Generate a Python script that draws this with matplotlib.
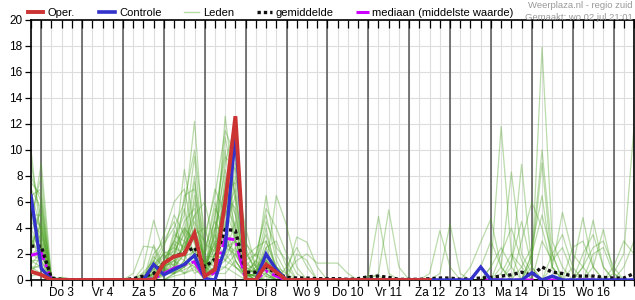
import numpy as np
import matplotlib
matplotlib.use("Agg")
import matplotlib.pyplot as plt
from matplotlib.lines import Line2D

plt.rcParams['font.family'] = ['Liberation Sans', 'DejaVu Sans']

# ---- data: 6-hourly steps starting wo 2 jul 18:00 ----
n_steps = 60
day_labels = ["Do 3", "Vr 4", "Za 5", "Zo 6", "Ma 7", "Di 8", "Wo 9", "Do 10",
              "Vr 11", "Za 12", "Zo 13", "Ma 14", "Di 15", "Wo 16"]
y_ticks = list(range(0, 21, 2))

oper = [0.65, 0.4, 0, 0, 0, 0, 0, 0, 0, 0, 0, 0, 0, 1.3, 1.8, 2.0, 3.6, 0.3, 0.8, 6.0,
        12.6, 0, 0, 1.2, 0.6, 0, 0, 0, 0, 0, 0, 0, 0, 0, 0, 0, 0, 0, 0, 0]

controle = [6.5, 0.9, 0, 0, 0, 0, 0, 0, 0, 0, 0, 0, 1.2, 0.4, 0.8, 1.2, 1.9, 0.1, 0, 2.5,
            11.3, 0, 0, 2.0, 0.8, 0, 0, 0, 0, 0, 0, 0, 0, 0, 0, 0, 0, 0, 0, 0,
            0, 0, 0, 0, 1.0, 0, 0, 0, 0, 0.55, 0, 0.3, 0, 0, 0, 0, 0, 0, 0, 0]

gemiddelde = [2.6, 2.6, 0.15, 0.05, 0.02, 0, 0, 0, 0, 0.02, 0.1, 0.3, 0.5, 1.3, 1.8, 2.1, 2.5, 1.0, 1.6, 3.9,
              3.8, 0.6, 0.6, 1.0, 0.5, 0.2, 0.15, 0.15, 0.1, 0.1, 0.1, 0.05, 0.1, 0.25, 0.3, 0.2, 0.05, 0.05, 0.05, 0.1,
              0.15, 0.15, 0.05, 0.1, 0.15, 0.2, 0.3, 0.4, 0.6, 0.35, 1.0, 0.6, 0.5, 0.3, 0.3, 0.3, 0.2, 0.15, 0.15, 0.5]

mediaan = [1.9, 2.1, 0, 0, 0, 0, 0, 0, 0, 0, 0, 0, 0.1, 0.5, 0.9, 1.2, 1.4, 0.1, 0.6, 3.2,
           3.1, 0, 0, 0.7, 0.3, 0, 0, 0, 0, 0, 0, 0, 0, 0, 0, 0, 0, 0, 0, 0,
           0, 0, 0, 0, 0, 0, 0, 0, 0, 0, 0, 0, 0, 0, 0, 0, 0, 0, 0, 0]

# ensemble members (step index -> value; unlisted steps are 0)
leden = [
    {0: 10.0, 1: 3.0, 2: 0.2, 12: 0.5, 13: 1.5, 14: 3.0, 15: 5.0, 16: 12.2, 17: 2.0, 18: 4.0, 19: 7.0, 20: 5.0, 21: 1.0, 22: 0.5, 23: 2.0, 24: 1.0, 46: 0.5, 47: 2.0, 48: 1.0},
    {0: 4.0, 1: 9.0, 2: 0.3, 11: 0.3, 12: 1.0, 13: 2.0, 14: 2.5, 15: 4.0, 16: 3.0, 17: 0.5, 18: 2.0, 19: 12.6, 20: 6.0, 21: 0.5, 23: 1.0, 49: 1.0, 50: 17.9, 51: 3.0, 52: 1.0},
    {0: 8.0, 1: 6.0, 3: 0.2, 11: 1.0, 12: 4.6, 13: 2.0, 14: 1.0, 15: 2.0, 16: 6.0, 17: 1.0, 18: 3.0, 19: 9.0, 20: 12.0, 21: 2.0, 22: 1.0, 23: 6.5, 24: 2.0, 25: 0.5, 33: 0.3, 34: 4.9, 35: 0.5},
    {0: 6.5, 1: 7.0, 12: 2.7, 13: 1.0, 14: 2.0, 15: 8.5, 16: 4.0, 17: 3.0, 18: 7.0, 19: 5.0, 20: 10.0, 21: 1.5, 22: 2.0, 23: 1.0, 24: 6.5, 25: 4.2, 26: 1.0, 34: 0.5, 35: 5.4, 36: 1.0},
    {0: 5.5, 1: 4.0, 2: 0.2, 10: 0.5, 11: 2.6, 12: 2.5, 13: 0.5, 14: 3.5, 15: 3.0, 16: 8.0, 17: 0.5, 18: 1.0, 19: 6.0, 20: 4.0, 21: 0.3, 22: 0.5, 23: 3.0, 24: 1.0, 25: 0.5, 26: 3.3, 27: 2.9, 28: 1.0, 45: 1.0, 46: 11.8, 47: 2.0},
    {0: 5.0, 1: 5.0, 12: 2.0, 13: 3.0, 14: 4.5, 15: 2.0, 16: 5.0, 17: 6.0, 18: 2.5, 19: 3.0, 20: 8.0, 21: 4.0, 22: 1.0, 23: 1.5, 24: 0.5, 39: 0.5, 40: 3.8, 41: 1.0, 49: 2.0, 50: 10.0, 51: 2.0},
    {0: 4.5, 1: 3.5, 3: 0.2, 12: 1.5, 13: 0.5, 14: 1.0, 15: 6.5, 16: 7.0, 17: 1.0, 18: 5.0, 19: 10.0, 20: 3.0, 21: 0.5, 22: 0.3, 23: 2.5, 24: 3.0, 25: 1.0, 40: 0.5, 41: 4.3, 42: 0.5, 47: 1.0, 48: 8.9, 49: 1.0},
    {0: 3.5, 1: 2.5, 11: 0.5, 12: 1.0, 13: 2.5, 14: 5.0, 15: 3.5, 16: 2.0, 17: 0.3, 18: 4.0, 19: 4.0, 20: 6.5, 21: 1.0, 22: 2.0, 23: 5.0, 24: 1.5, 46: 1.0, 47: 8.3, 48: 2.0, 49: 0.5},
    {0: 3.0, 1: 2.0, 12: 0.5, 13: 1.0, 14: 1.5, 15: 2.5, 16: 4.5, 17: 2.0, 18: 6.0, 19: 2.5, 20: 2.0, 21: 0.5, 23: 0.5, 49: 1.5, 50: 9.0, 51: 1.0, 53: 1.0, 54: 4.8, 55: 1.0},
    {0: 2.5, 1: 4.5, 12: 0.3, 13: 0.5, 14: 2.0, 15: 1.5, 16: 3.5, 17: 4.0, 18: 1.5, 19: 8.0, 20: 2.5, 21: 0.2, 22: 0.5, 23: 1.0, 24: 0.3, 54: 1.0, 55: 4.6, 56: 1.0},
    {0: 2.0, 1: 1.5, 13: 1.0, 14: 0.5, 15: 1.0, 16: 2.5, 17: 0.5, 18: 3.5, 19: 1.5, 20: 3.5, 21: 2.5, 22: 0.5, 23: 4.0, 24: 0.5, 43: 1.0, 44: 2.9, 45: 4.7, 46: 1.0, 55: 1.0, 56: 3.9, 57: 0.5},
    {0: 1.5, 1: 1.0, 12: 0.5, 13: 1.5, 14: 3.0, 15: 5.5, 16: 1.5, 17: 0.2, 18: 2.0, 19: 3.5, 20: 1.0, 21: 0.5, 24: 0.5, 57: 0.5, 58: 2.0, 59: 11.8},
    {0: 1.0, 1: 0.5, 14: 0.5, 15: 1.0, 16: 2.0, 17: 1.0, 18: 0.5, 19: 2.0, 20: 4.5, 21: 0.3, 22: 1.5, 23: 0.5, 51: 1.0, 52: 5.2, 53: 2.0, 54: 1.0},
    {0: 0.5, 1: 2.0, 12: 0.2, 13: 0.5, 14: 1.0, 15: 0.5, 16: 1.0, 17: 0.5, 18: 1.0, 19: 1.0, 20: 2.0, 21: 0.5, 22: 0.3, 23: 0.8, 25: 0.5, 26: 1.5, 27: 2.0, 28: 1.3, 29: 1.3, 30: 1.3, 31: 0.5},
    {0: 7.0, 1: 5.5, 12: 1.2, 13: 2.0, 14: 0.5, 15: 3.0, 16: 2.0, 17: 1.5, 18: 0.5, 19: 5.0, 20: 7.0, 21: 1.0, 22: 0.5, 23: 2.0, 24: 1.0, 48: 3.0, 49: 6.0, 50: 4.0, 51: 1.0},
    {0: 3.0, 1: 3.0, 13: 0.3, 14: 1.0, 15: 2.0, 16: 0.5, 17: 1.0, 18: 1.5, 19: 4.5, 20: 1.5, 21: 0.3, 22: 1.0, 23: 0.3, 53: 2.5, 54: 3.0, 55: 1.0},
    {0: 2.0, 1: 6.0, 11: 0.2, 12: 0.8, 13: 1.2, 14: 2.0, 15: 4.0, 16: 3.0, 17: 0.5, 18: 2.5, 19: 6.5, 20: 5.5, 21: 0.5, 22: 0.8, 23: 1.0, 24: 0.5, 26: 2.0, 27: 1.5},
    {0: 1.0, 1: 1.0, 13: 0.5, 14: 1.5, 15: 1.0, 16: 1.5, 17: 0.3, 18: 1.0, 19: 2.0, 20: 1.0, 21: 0.2, 33: 0.3, 34: 0.3, 51: 2.0, 52: 3.5, 53: 1.0},
    {0: 6.0, 1: 2.5, 12: 0.5, 13: 0.8, 14: 0.5, 15: 1.5, 16: 6.5, 17: 2.5, 18: 4.5, 19: 3.0, 20: 9.0, 21: 1.5, 22: 0.5, 23: 2.5, 24: 0.5, 46: 2.0, 47: 4.0, 48: 1.5},
    {0: 0.3, 1: 0.5, 14: 0.3, 15: 0.5, 16: 0.8, 17: 0.2, 18: 0.5, 19: 1.0, 20: 0.5, 23: 0.3, 57: 1.0, 58: 3.0, 59: 2.0},
    {0: 4.0, 1: 2.0, 12: 1.0, 13: 0.5, 14: 2.5, 15: 2.0, 16: 3.5, 17: 0.8, 18: 3.0, 19: 2.5, 20: 3.0, 21: 0.8, 22: 0.5, 23: 1.5, 24: 0.5, 44: 1.0, 45: 3.0, 46: 1.0},
    {0: 2.5, 1: 3.5, 12: 0.3, 13: 0.3, 14: 0.8, 15: 1.0, 16: 2.0, 17: 0.5, 18: 2.0, 19: 1.5, 20: 2.5, 21: 0.5, 22: 0.3, 49: 2.0, 50: 5.0, 51: 2.0},
    {0: 5.0, 1: 4.0, 12: 1.8, 13: 1.0, 14: 3.0, 15: 2.5, 16: 4.0, 17: 1.5, 18: 1.0, 19: 7.5, 20: 4.0, 21: 0.5, 22: 1.5, 23: 3.5, 24: 1.0, 54: 2.0, 55: 3.5, 56: 1.0},
    {0: 1.5, 1: 1.5, 13: 0.5, 14: 0.5, 15: 1.5, 16: 1.0, 18: 0.5, 19: 0.5, 20: 1.5, 21: 0.3, 22: 0.3, 45: 1.0, 46: 2.5, 47: 1.0},
    {0: 2.0, 1: 2.5, 12: 0.5, 13: 0.5, 14: 1.0, 15: 3.0, 16: 5.0, 17: 1.0, 18: 2.5, 19: 3.5, 20: 1.5, 21: 0.3, 22: 0.5, 23: 0.5, 25: 1.0, 26: 2.5, 27: 1.0, 55: 2.0, 56: 2.5, 57: 0.5},
    {0: 3.5, 1: 1.0, 13: 1.0, 14: 1.5, 15: 0.5, 16: 1.5, 17: 0.5, 18: 1.5, 19: 2.0, 20: 3.0, 21: 0.5, 47: 1.5, 48: 4.5, 49: 1.0, 58: 1.0, 59: 3.0},
    {0: 0.8, 1: 1.2, 14: 0.5, 15: 0.8, 16: 1.2, 17: 0.3, 18: 0.8, 19: 1.5, 20: 1.0, 21: 0.3, 50: 3.0, 51: 1.5, 52: 2.5, 53: 0.5},
    {0: 9.0, 1: 4.5, 12: 0.8, 13: 1.8, 14: 2.2, 15: 3.5, 16: 9.5, 17: 1.2, 18: 3.5, 19: 11.0, 20: 6.5, 21: 1.2, 22: 0.8, 23: 1.5, 24: 0.8},
    {0: 4.8, 1: 8.0, 11: 0.6, 12: 1.5, 13: 3.5, 14: 6.0, 15: 7.0, 16: 3.0, 17: 2.0, 18: 5.5, 19: 4.0, 20: 11.0, 21: 3.0, 22: 1.0, 23: 2.0, 24: 1.0},
    {0: 6.8, 1: 3.8, 12: 0.6, 13: 2.2, 14: 1.8, 15: 4.5, 16: 5.5, 17: 0.8, 18: 3.8, 19: 8.5, 20: 5.0, 21: 0.8, 22: 1.2, 23: 4.5, 24: 2.5, 25: 1.5},
    {0: 3.8, 1: 5.2, 12: 0.4, 13: 0.8, 14: 3.8, 15: 2.2, 16: 7.5, 17: 2.8, 18: 2.2, 19: 5.5, 20: 3.2, 21: 0.6, 22: 0.2, 23: 1.2, 24: 0.4},
    {0: 2.8, 1: 4.2, 12: 0.9, 13: 1.2, 14: 1.2, 15: 3.8, 16: 2.8, 17: 0.6, 18: 4.8, 19: 9.5, 20: 8.5, 21: 1.8, 22: 2.5, 23: 3.0, 24: 0.8},
    {0: 5.8, 1: 2.8, 12: 0.2, 13: 0.6, 14: 1.2, 15: 2.8, 16: 3.8, 17: 1.8, 18: 1.8, 19: 6.8, 20: 7.5, 21: 2.2, 22: 0.6, 23: 0.8, 24: 0.2, 48: 1.0, 49: 2.5, 50: 6.5, 51: 1.0},
    {0: 1.2, 1: 2.2, 12: 0.6, 13: 0.9, 14: 2.8, 15: 1.8, 16: 2.2, 17: 1.2, 18: 2.8, 19: 2.8, 20: 2.2, 21: 0.4, 22: 0.4, 23: 1.8, 24: 0.4, 54: 1.0, 55: 2.5, 56: 3.0, 57: 1.0},
    {0: 7.5, 1: 6.5, 12: 1.4, 13: 2.8, 14: 4.0, 15: 6.0, 16: 10.0, 17: 3.5, 18: 6.5, 19: 11.5, 20: 9.5, 21: 2.8, 22: 1.8, 23: 5.5, 24: 4.0, 25: 2.0, 26: 0.5},
]

# ---- figure ----
W, H = 635, 300
fig = plt.figure(figsize=(W / 100, H / 100), dpi=100)
L, B, R, T = 31, 20, 634, 280  # pixel box (y from top)
ax = fig.add_axes([L / W, (H - T) / H, (R - L) / W, (T - B) / H])

# time axis in days from do 3 jul 00:00
t = -0.25 + 0.25 * np.arange(n_steps)
ax.set_xlim(t[0], t[-1])
ax.set_ylim(0, 20)

# grid
for k in range(n_steps):
    ax.axvline(t[k], color='#dddddd', lw=0.8, zorder=0)
for yv in y_ticks:
    ax.axhline(yv, color='#dddddd', lw=0.8, zorder=0)
for d in range(0, 15):
    ax.axvline(d, color='#555555', lw=1.1, zorder=0.5)

green = (0.30, 0.64, 0.14)
for m in leden:
    vals = np.zeros(n_steps)
    for k, v in m.items():
        vals[k] = v
    ax.plot(t, vals, color=green, alpha=0.38, lw=0.9, zorder=1)

ax.plot(t, mediaan, color='#cc00ff', lw=2.2, dashes=(6, 1.5, 1, 1.5), zorder=3)
ax.plot(t, gemiddelde, color='#111111', lw=2.4, dashes=(1.0, 0.9), zorder=4)
ax.plot(t, controle, color='#3333cc', lw=2.4, zorder=5, solid_joinstyle='miter')
ax.plot(t[:len(oper)], oper, color='#cc3333', lw=2.8, zorder=6, solid_joinstyle='miter')

# ticks
ax.set_yticks(y_ticks)
ax.set_yticklabels([str(v) for v in y_ticks], fontsize=8.5)
ax.set_xticks(t)
ax.set_xticklabels([])
ax.tick_params(axis='x', direction='out', length=4, width=0.9, color='black', top=True)
ax.tick_params(axis='y', direction='out', length=4, width=0.9, color='black', pad=2)
for tk in ax.xaxis.get_major_ticks():
    tk.tick2line.set_marker(matplotlib.markers.TICKDOWN)
    tk.tick2line.set_markersize(6)
for i, lab in enumerate(day_labels):
    ax.text(i + 0.5, -0.55, lab, ha='center', va='top', fontsize=8.5,
            transform=ax.transData, clip_on=False)

for s in ax.spines.values():
    s.set_color('black')
    s.set_linewidth(1.2)

# legend (manual, top)
def px(x, y):
    return x / W, (H - y) / H

ly = 12
items = [
    (28, 43, 48, 'Oper.', dict(color='#cc3333', lw=2.8)),
    (99, 115, 119, 'Controle', dict(color='#3333cc', lw=2.6)),
    (184, 199, 203, 'Leden', dict(color='#b5dca5', lw=1.0)),
    (257, 272, 276, 'gemiddelde', dict(color='#111111', lw=2.4, dashes=(1.0, 0.9))),
    (356, 369, 372, 'mediaan (middelste waarde)', dict(color='#cc00ff', lw=2.2, dashes=(6, 1.8, 1, 1.8))),
]
for x0, x1_, xt, txt, st in items:
    x1, y1 = px(x0, ly)
    x2, _ = px(x1_, ly)
    fig.add_artist(Line2D([x1, x2], [y1, y1], transform=fig.transFigure, **st))
    fig.text(*px(xt, ly + 0.5), txt, fontsize=8, va='center', ha='left')

fig.text(*px(633, 6), 'Weerplaza.nl - regio zuid', fontsize=6.8, color='#999999',
         ha='right', va='center')
fig.text(*px(633, 17), 'Gemaakt: wo 02 jul 21:01', fontsize=6.8, color='#999999',
         ha='right', va='center')

fig.savefig('out.png', dpi=100)
